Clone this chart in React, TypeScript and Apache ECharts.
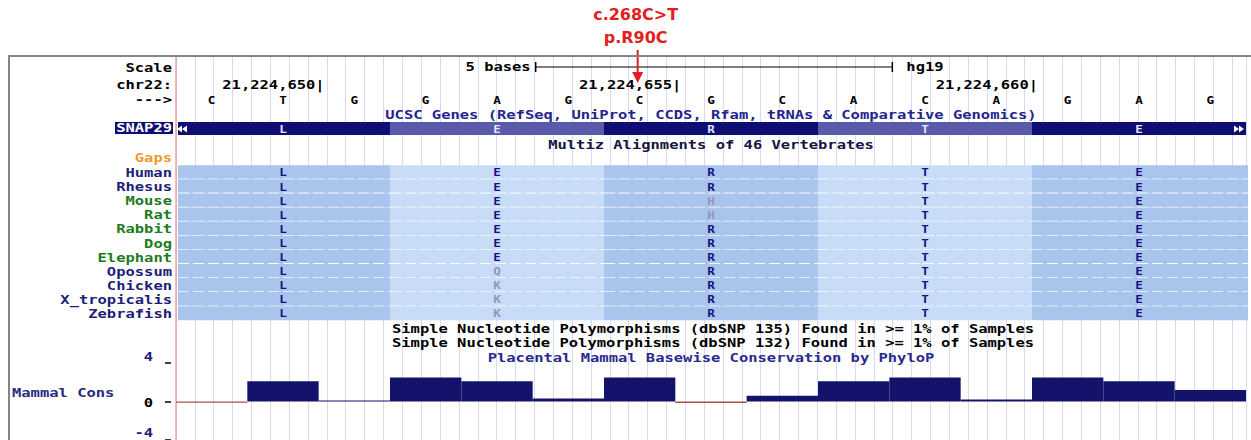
import React, { useEffect, useRef } from 'react';
import * as echarts from 'echarts';

// ---------- data ----------
const bases = ['C', 'T', 'G', 'G', 'A', 'G', 'C', 'G', 'C', 'A', 'C', 'A', 'G', 'A', 'G'];
const codonLetters = ['L', 'E', 'R', 'T', 'E'];
const species = ['Human', 'Rhesus', 'Mouse', 'Rat', 'Rabbit', 'Dog', 'Elephant', 'Opossum', 'Chicken', 'X_tropicalis', 'Zebrafish'];
const speciesIsPlacental = [false, false, true, true, true, true, true, false, false, false, false];
const alignedAA = ['LERTE', 'LERTE', 'LEHTE', 'LEHTE', 'LERTE', 'LERTE', 'LERTE', 'LQRTE', 'LKRTE', 'LKRTE', 'LKRTE'];
const positionTicks = [21224650, 21224655, 21224660];
const positionBaseIndex = [1, 6, 11];
const consValues = [-0.12, 2.1, 0.1, 2.5, 2.1, 0.3, 2.5, -0.15, 0.6, 2.1, 2.5, 0.2, 2.5, 2.1, 1.2];
const consTickLabels = ['4', '0', '-4'];
const scaleBar = [5, 10];
const variant = { base: 6, cdna: 'c.268C>T', protein: 'p.R90C' };
const geneName = 'SNAP29';
const trackTitles = {
  genes: 'UCSC Genes (RefSeq, UniProt, CCDS, Rfam, tRNAs & Comparative Genomics)',
  multiz: 'Multiz Alignments of 46 Vertebrates',
  snp135: 'Simple Nucleotide Polymorphisms (dbSNP 135) Found in >= 1% of Samples',
  snp132: 'Simple Nucleotide Polymorphisms (dbSNP 132) Found in >= 1% of Samples',
  phylop: 'Placental Mammal Basewise Conservation by PhyloP',
};

// ---------- style ----------
const W = 1251;
const H = 440;
const LEFT = 176;
const DW = 1070;
const MONO = '"DejaVu Sans Mono", "Liberation Mono", monospace';
const FONT = `bold 12px ${MONO}`;
const SX = 1.29;
const NAVY = '#1e1e78';
const GREEN = '#1e7a1e';
const BAR_DARK = '#0e0e72';
const BAR_LIGHT = '#5a5aaa';
const ALN_DARK = '#a9c5ee';
const ALN_LIGHT = '#c8dcf8';
const RED = '#e41e1e';

function txt(text: string, x: number, y: number, align: string, color: string, font = FONT, sx = SX): any {
  return {
    type: 'text',
    x,
    y,
    scaleX: sx,
    silent: true,
    z: 20,
    style: { text, fill: color, font, align, verticalAlign: 'middle' },
  };
}

function buildOption(): any {
  const mid = LEFT + DW / 2;
  const graphic: any[] = [
    {
      type: 'rect',
      z: 30,
      silent: true,
      shape: { x: 9, y: 56, width: 1400, height: 500 },
      style: { fill: 'none', stroke: '#858585', lineWidth: 2 },
    },
    txt('Scale', 172, 68, 'right', '#000'),
    txt('chr22:', 172, 85, 'right', '#000'),
    txt('--->', 172, 100, 'right', '#000'),
    txt(trackTitles.genes, mid, 114.5, 'center', '#24248e'),
    {
      type: 'rect',
      z: 15,
      silent: true,
      shape: { x: 115, y: 122, width: 58, height: 12 },
      style: { fill: BAR_DARK },
    },
    txt(geneName, 172, 128, 'right', '#ffffff'),
    txt(trackTitles.multiz, mid, 145, 'center', '#151540'),
    txt('Gaps', 172, 158, 'right', '#f09a30'),
    txt(trackTitles.snp135, mid + 2, 328.5, 'center', '#000'),
    txt(trackTitles.snp132, mid + 2, 343, 'center', '#000'),
    txt(trackTitles.phylop, mid, 357.5, 'center', '#2a2a8e'),
    txt('Mammal Cons', 12, 393, 'left', '#2a2a80'),
    txt(consTickLabels[0], 153, 357, 'right', NAVY),
    txt(consTickLabels[1], 153, 403, 'right', '#000'),
    txt(consTickLabels[2], 153, 432.5, 'right', NAVY),
  ];

  const hiddenX = (gridIndex: number) => ({
    gridIndex,
    type: 'value',
    min: 0,
    max: 15,
    show: false,
  });

  return {
    animation: false,
    backgroundColor: '#ffffff',
    grid: [
      { left: LEFT, top: 57, width: DW, height: 383 },
      { left: LEFT, top: 60, width: DW, height: 48 },
      { left: LEFT, top: 122, width: DW, height: 13 },
      { left: LEFT, top: 165.2, width: DW, height: 155.1 },
      { left: LEFT, top: 363, width: DW, height: 80 },
    ],
    xAxis: [
      {
        gridIndex: 0,
        type: 'value',
        min: 0,
        max: DW,
        interval: 18.86,
        axisLine: { show: false },
        axisTick: { show: false },
        axisLabel: { show: false },
        splitLine: { show: true, lineStyle: { color: '#d8d8f4', width: 1 } },
      },
      hiddenX(1),
      hiddenX(2),
      hiddenX(3),
      { gridIndex: 4, type: 'category', data: bases, show: false, boundaryGap: true },
    ],
    yAxis: [
      {
        gridIndex: 0,
        type: 'value',
        min: 0,
        max: 1,
        axisLine: { show: true, onZero: false, lineStyle: { color: '#f3a0a0', width: 1.5 } },
        axisTick: { show: false },
        axisLabel: { show: false },
        splitLine: { show: false },
      },
      { gridIndex: 1, type: 'category', data: ['scale', 'chr', 'bases'], inverse: true, show: false },
      { gridIndex: 2, type: 'category', data: [geneName], show: false },
      { gridIndex: 3, type: 'category', data: species, inverse: true, show: false },
      {
        gridIndex: 4,
        type: 'value',
        min: -4,
        max: 4,
        interval: 4,
        offset: 5,
        axisLine: { show: false },
        axisTick: { show: true, length: 6, lineStyle: { color: '#000', width: 1.5 } },
        axisLabel: { show: false },
        splitLine: { show: false },
      },
    ],
    graphic,
    series: [
      // scale bar
      {
        type: 'custom',
        xAxisIndex: 1,
        yAxisIndex: 1,
        data: [[scaleBar[0], 0, scaleBar[1]]],
        renderItem: (params: any, api: any) => {
          const a = api.coord([api.value(0), api.value(1)]);
          const b = api.coord([api.value(2), api.value(1)]);
          const y = a[1] - 1;
          const x0 = a[0] + 3;
          const x1 = b[0] + 3;
          const n = (api.value(2) as number) - (api.value(0) as number);
          return {
            type: 'group',
            children: [
              { type: 'line', shape: { x1: x0, y1: y, x2: x1, y2: y }, style: { stroke: '#000', lineWidth: 1 } },
              { type: 'line', shape: { x1: x0, y1: y - 5, x2: x0, y2: y + 5 }, style: { stroke: '#000', lineWidth: 1.5 } },
              { type: 'line', shape: { x1: x1, y1: y - 5, x2: x1, y2: y + 5 }, style: { stroke: '#000', lineWidth: 1.5 } },
              txt(`${n} bases`, x0 - 5, y, 'right', '#000'),
              txt('hg19', x1 + 14, y, 'left', '#000'),
            ],
          };
        },
      },
      // chromosome positions
      {
        type: 'custom',
        xAxisIndex: 1,
        yAxisIndex: 1,
        data: positionBaseIndex.map((b, i) => [b, 1, positionTicks[i]]),
        renderItem: (params: any, api: any) => {
          const p = api.coord([(api.value(0) as number) + 1, api.value(1)]);
          const v = positionTicks[params.dataIndex];
          return txt(`${v.toLocaleString('en-US')}|`, p[0] + 6, p[1] + 1, 'right', '#000');
        },
      },
      // bases
      {
        type: 'custom',
        xAxisIndex: 1,
        yAxisIndex: 1,
        data: bases.map((_, i) => [i, 2]),
        renderItem: (params: any, api: any) => {
          const p = api.coord([(api.value(0) as number) + 0.5, api.value(1)]);
          return txt(bases[params.dataIndex], p[0], p[1], 'center', '#000', `bold 11px ${MONO}`, 1.15);
        },
      },
      // variant annotation
      {
        type: 'custom',
        xAxisIndex: 1,
        yAxisIndex: 1,
        data: [[variant.base, 1]],
        renderItem: (params: any, api: any) => {
          const p = api.coord([(api.value(0) as number) + 0.5, api.value(1)]);
          const x = p[0] - 2;
          const tip = p[1] - 1;
          const sans = 'bold 16px "DejaVu Sans", sans-serif';
          return {
            type: 'group',
            children: [
              { type: 'line', shape: { x1: x, y1: 50, x2: x, y2: tip - 9 }, style: { stroke: RED, lineWidth: 2 } },
              {
                type: 'polygon',
                shape: { points: [[x - 5.5, tip - 11], [x + 5.5, tip - 11], [x, tip]] },
                style: { fill: RED },
              },
              txt(variant.cdna, x - 2, 14, 'center', RED, sans, 1),
              txt(variant.protein, x - 2, 37, 'center', RED, sans, 1),
            ],
          };
        },
      },
      // gene model
      {
        type: 'custom',
        xAxisIndex: 2,
        yAxisIndex: 2,
        data: codonLetters.map((_, c) => [c * 3, 0, c * 3 + 3, c]),
        renderItem: (params: any, api: any) => {
          const a = api.coord([api.value(0), api.value(1)]);
          const b = api.coord([api.value(2), api.value(1)]);
          const h = api.size([0, 1])[1];
          const c = api.value(3) as number;
          const x0 = c === 0 ? a[0] + 2 : a[0];
          const children: any[] = [
            {
              type: 'rect',
              shape: { x: x0, y: a[1] - h / 2, width: b[0] - x0, height: h },
              style: { fill: c % 2 === 0 ? BAR_DARK : BAR_LIGHT },
            },
            txt(codonLetters[c], (a[0] + b[0]) / 2, a[1] + 0.5, 'center', '#e4e4ff', `bold 11px ${MONO}`, 1.15),
          ];
          const y = a[1] + 0.5;
          if (c === 0) {
            [a[0] + 6, a[0] + 11].forEach((tx) =>
              children.push({ type: 'polygon', shape: { points: [[tx, y - 3.5], [tx, y + 3.5], [tx - 5, y]] }, style: { fill: '#ffffff' } }),
            );
          }
          if (c === codonLetters.length - 1) {
            [b[0] - 12, b[0] - 7].forEach((tx) =>
              children.push({ type: 'polygon', shape: { points: [[tx, y - 3.5], [tx, y + 3.5], [tx + 5, y]] }, style: { fill: '#ffffff' } }),
            );
          }
          return { type: 'group', children };
        },
      },
      // multiz alignment
      {
        type: 'custom',
        xAxisIndex: 3,
        yAxisIndex: 3,
        data: species.flatMap((_, s) => codonLetters.map((__, c) => [c * 3, s, c * 3 + 3, c])),
        renderItem: (params: any, api: any) => {
          const s = api.value(1) as number;
          const c = api.value(3) as number;
          const a = api.coord([api.value(0), s]);
          const b = api.coord([api.value(2), s]);
          const h = api.size([0, 1])[1];
          const x0 = c === 0 ? a[0] + 2 : a[0];
          const aa = alignedAA[s][c];
          const match = aa === alignedAA[0][c];
          const children: any[] = [
            {
              type: 'rect',
              shape: { x: x0, y: a[1] - h / 2, width: b[0] - x0 + (c === 4 ? 2 : 0), height: h },
              style: { fill: c % 2 === 0 ? ALN_DARK : ALN_LIGHT },
            },
            txt(aa, (a[0] + b[0]) / 2, a[1] + 0.5, 'center', match ? '#14147e' : '#9494bc', `bold 11px ${MONO}`, 1.15),
          ];
          if (s < species.length - 1) {
            children.push({
              type: 'line',
              shape: { x1: x0, y1: a[1] + h / 2, x2: b[0] + (c === 4 ? 2 : 0), y2: a[1] + h / 2 },
              style: { stroke: '#ffffff', lineWidth: 1.6, lineDash: [11, 4], opacity: 0.9 },
            });
          }
          if (c === 0) {
            children.push(txt(species[s], LEFT - 4, a[1] + 0.5, 'right', speciesIsPlacental[s] ? GREEN : NAVY));
          }
          return { type: 'group', children };
        },
      },
      // conservation
      {
        type: 'bar',
        xAxisIndex: 4,
        yAxisIndex: 4,
        barWidth: '100%',
        barCategoryGap: '0%',
        data: consValues,
        itemStyle: {
          color: (p: any) => (p.value >= 0 ? '#13136c' : '#a85050'),
        },
      },
    ],
  };
}

export default function App() {
  const ref = useRef<HTMLDivElement>(null);
  useEffect(() => {
    if (!ref.current) return;
    const chart = echarts.init(ref.current, null, { renderer: 'svg' });
    chart.setOption(buildOption());
    return () => chart.dispose();
  }, []);
  return <div ref={ref} style={{ position: 'absolute', left: 0, top: 0, width: W, height: H }} />;
}
